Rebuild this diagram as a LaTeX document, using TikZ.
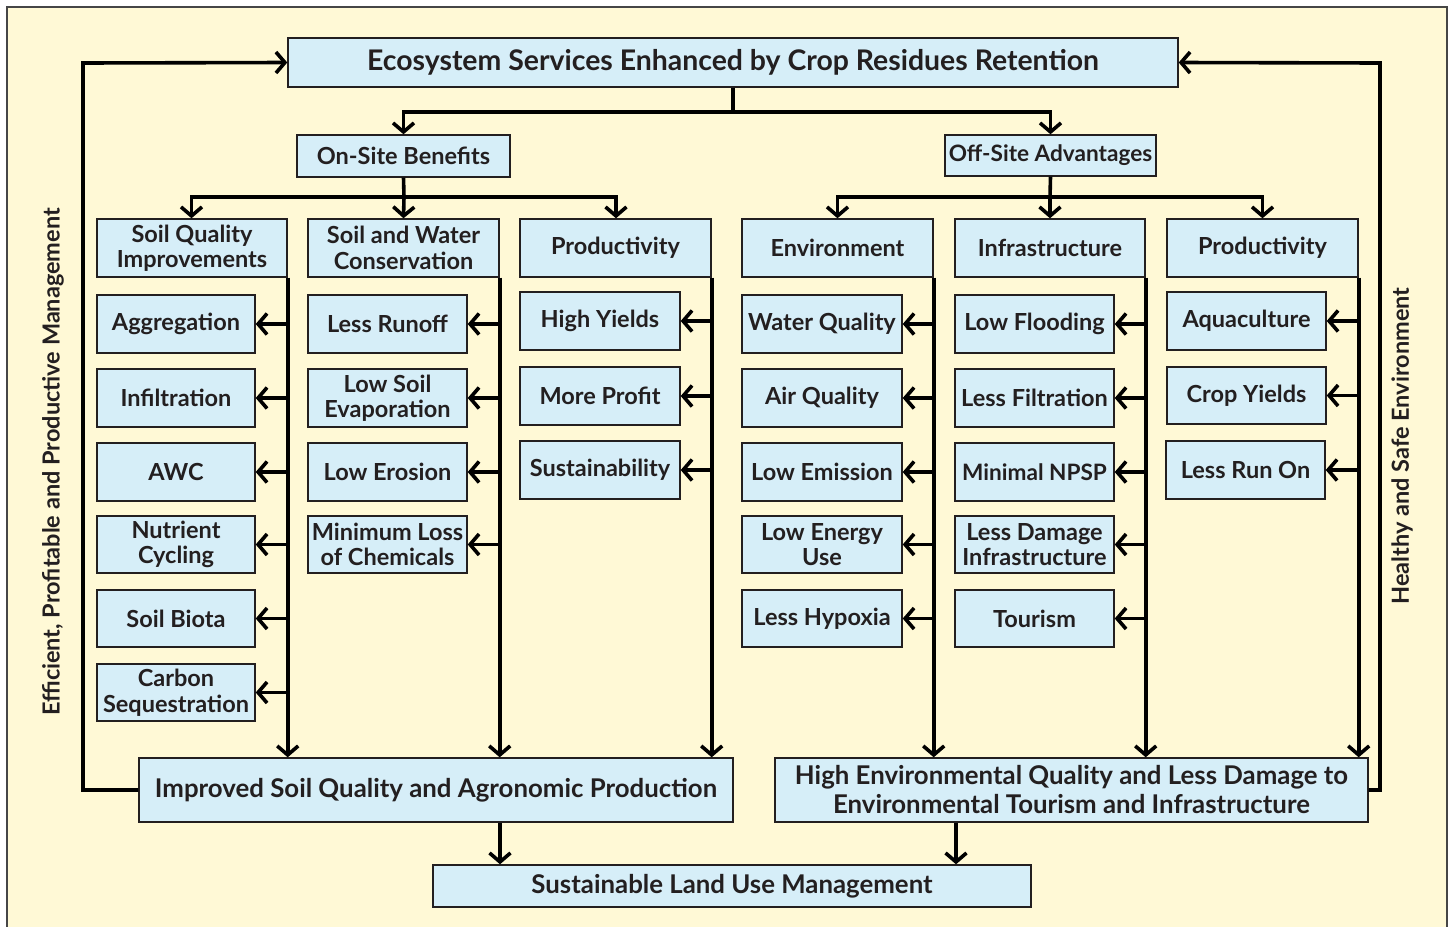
\documentclass[tikz,border=0pt]{standalone}
\usepackage{fontspec}
\setmainfont{Lato}
\usetikzlibrary{arrows.meta}
\definecolor{bgc}{RGB}{255,249,214}
\definecolor{boxc}{RGB}{214,238,248}
\definecolor{bdr}{RGB}{35,31,32}
\definecolor{frm}{RGB}{70,70,70}
\newcommand\lbl{\fontsize{23.5}{25.5}\selectfont\bfseries}
\newcommand\sml{\fontsize{22.6}{25}\selectfont\bfseries}
\newcommand\ttl{\fontsize{28.4}{32}\selectfont\bfseries}
\newcommand\bgl{\fontsize{25.8}{29}\selectfont\bfseries}
\newcommand\bx[7][]{\node[box, #1, minimum width={(#5)-(#3)}, minimum height={(#6)-(#4)}] (#2) at ({((#3)+(#5))/2},{((#4)+(#6))/2}) {#7};}
\tikzset{
  box/.style={draw=bdr, fill=boxc, line width=1.4pt, inner sep=0pt, align=center, font=\lbl, text=bdr},
  conn/.style={line width=3.6pt, draw=black},
  arr/.style={conn, -{Straight Barb[length=9pt,width=21pt]}},
  side/.style={rotate=90, font=\lbl, text=bdr}
}
\begin{document}
\begin{tikzpicture}[x=1pt,y=-1pt]
\useasboundingbox (0,0) rectangle (1450,926);
\fill[white] (0,0) rectangle (1450,926);
\draw[frm, line width=1.4pt, fill=bgc] (7,7) rectangle (1447,940);
% top
\bx[font=\ttl]{title}{288}{38}{1178}{87}{Ecosystem Services Enhanced by Crop Residues Retention}
\bx{onsite}{297}{135}{510}{177}{On-Site Benefits}
\bx[font=\sml]{offsite}{945}{135}{1156}{176}{Off-Site Advantages}
% headers
\bx{h1}{97}{219}{287}{277}{Soil Quality\\Improvements}
\bx{h2}{308}{219}{499}{277}{Soil and Water\\Conservation}
\bx{h3}{520}{219}{711}{277}{Productivity}
\bx{h4}{742}{219}{933}{277}{Environment}
\bx{h5}{955}{219}{1145}{277}{Infrastructure}
\bx{h6}{1167}{219}{1358}{277}{Productivity}
% column 1
\bx{a1}{97}{295}{255}{353}{Aggregation}
\bx{a2}{97}{369}{255}{427}{Infiltration}
\bx{a3}{97}{443}{255}{501}{AWC}
\bx{a4}{97}{516}{255}{573}{Nutrient\\Cycling}
\bx{a5}{97}{590}{255}{647}{Soil Biota}
\bx{a6}{97}{664}{255}{721}{Carbon\\Sequestration}
% column 2
\bx{b1}{308}{295}{467}{353}{Less Runoff}
\bx{b2}{308}{369}{467}{427}{Low Soil\\Evaporation}
\bx{b3}{308}{443}{467}{501}{Low Erosion}
\bx{b4}{308}{516}{467}{573}{Minimum Loss\\of Chemicals}
% column 3
\bx{c1}{520}{292}{680}{350}{High Yields}
\bx{c2}{520}{367}{680}{425}{More Profit}
\bx{c3}{520}{441}{680}{499}{Sustainability}
% column 4
\bx{d1}{742}{295}{902}{353}{Water Quality}
\bx{d2}{742}{369}{902}{427}{Air Quality}
\bx{d3}{742}{443}{902}{501}{Low Emission}
\bx{d4}{742}{516}{902}{573}{Low Energy\\Use}
\bx{d5}{742}{590}{902}{647}{Less Hypoxia}
% column 5
\bx{e1}{955}{295}{1114}{353}{Low Flooding}
\bx{e2}{955}{369}{1114}{427}{Less Filtration}
\bx[font=\sml]{e3}{955}{443}{1114}{501}{Minimal NPSP}
\bx{e4}{955}{516}{1114}{573}{Less Damage\\Infrastructure}
\bx{e5}{955}{590}{1114}{647}{Tourism}
% column 6
\bx{f1}{1167}{292}{1326}{350}{Aquaculture}
\bx{f2}{1167}{367}{1326}{424}{Crop Yields}
\bx{f3}{1166}{441}{1325}{499}{Less Run On}
% bottom
\bx[font=\bgl]{bl}{139}{758}{733}{822}{Improved Soil Quality and Agronomic Production}
\bx[font=\bgl]{br}{775}{758}{1368}{822}{High Environmental Quality and Less Damage to\\Environmental Tourism and Infrastructure}
\bx[font=\bgl]{slu}{433}{865}{1031}{907}{Sustainable Land Use Management}
% side labels
\node[side] (lleft) at (53,462) {Efficient, Profitable and Productive Management};
\node[side] (lright) at (1402,446) {Healthy and Safe Environment};
% top connectors
\coordinate (split1) at (733,112);
\draw[conn] (title.south) -- (split1);
\draw[arr] (split1) -| (onsite.north);
\draw[arr] (split1) -| (offsite.north);
\coordinate (split2) at (404,197);
\coordinate (split3) at (1050,197);
\draw[conn] (onsite.south) -- (split2);
\draw[arr] (split2) -| ([xshift=-0.5pt]h1.north);
\draw[arr] (split2) -- (h2.north);
\draw[arr] (split2) -| ([xshift=0.5pt]h3.north);
\draw[conn] (offsite.south) -- (split3);
\draw[arr] (split3) -| (h4.north);
\draw[arr] (split3) -- (h5.north);
\draw[arr] (split3) -| (h6.north);
% vertical trunks
\draw[arr] (h1.south east) -- (h1.south east |- bl.north);
\draw[arr] (h2.south east) -- (h2.south east |- bl.north);
\draw[arr] (h3.south east) -- (h3.south east |- bl.north);
\draw[arr] (h4.south east) -- (h4.south east |- br.north);
\draw[arr] (h5.south east) -- (h5.south east |- br.north);
\draw[arr] (h6.south east) -- (h6.south east |- br.north);
% branches
\foreach \c in {a1,a2,a3,a4,a5,a6} {\draw[arr] (h1.south east |- \c.east) -- (\c.east);}
\foreach \c in {b1,b2,b3,b4} {\draw[arr] (h2.south east |- \c.east) -- (\c.east);}
\foreach \c in {c1,c2,c3} {\draw[arr] (h3.south east |- \c.east) -- (\c.east);}
\foreach \c in {d1,d2,d3,d4,d5} {\draw[arr] (h4.south east |- \c.east) -- (\c.east);}
\foreach \c in {e1,e2,e3,e4,e5} {\draw[arr] (h5.south east |- \c.east) -- (\c.east);}
\foreach \c in {f1,f2,f3} {\draw[arr] (h6.south east |- \c.east) -- (\c.east);}
% bottom connectors
\draw[arr] ([xshift=64pt]bl.south) -- ([xshift=64pt]bl.south |- slu.north);
\draw[arr] ([xshift=-115.5pt]br.south) -- ([xshift=-115.5pt]br.south |- slu.north);
% loops
\coordinate (lc) at (83,63);
\coordinate (rc) at (1380,63);
\draw[arr] (bl.west) -| (lc) -- (title.west);
\draw[arr] (br.east) -| (rc) -- (title.east);
\end{tikzpicture}
\end{document}
